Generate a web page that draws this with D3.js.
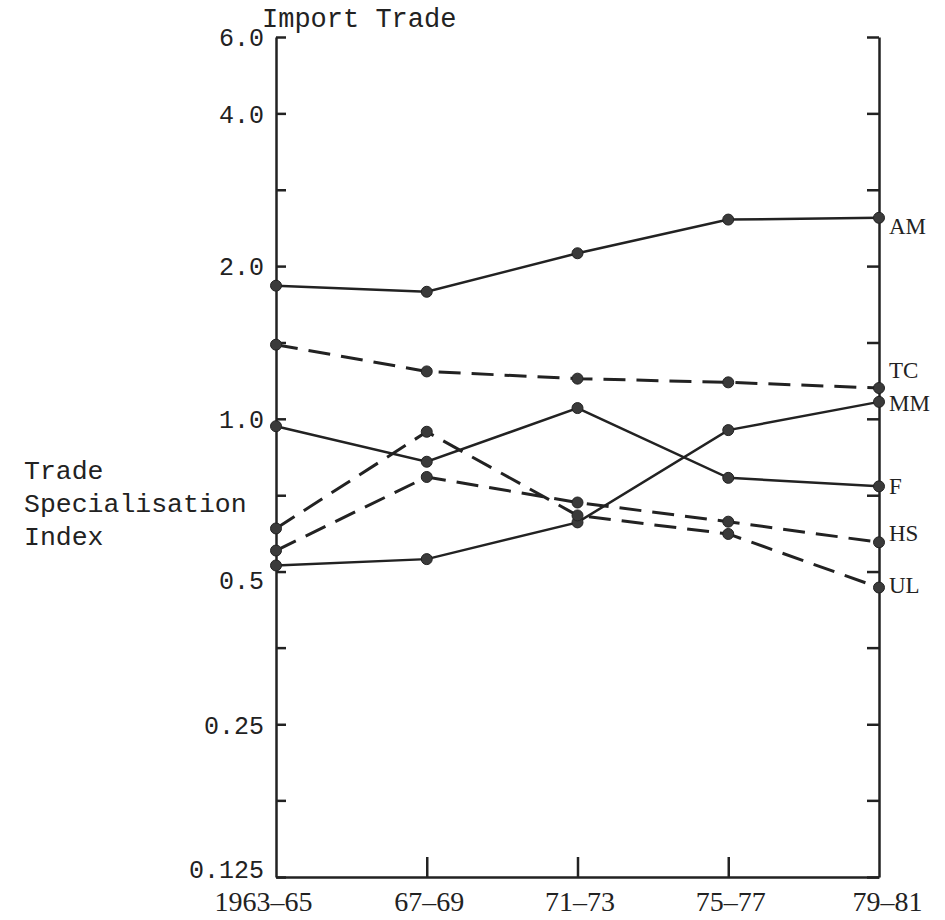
<!DOCTYPE html>
<html>
<head>
<meta charset="utf-8">
<script src="https://cdn.jsdelivr.net/npm/d3@7"></script>
<style>
  html, body { margin: 0; padding: 0; background: #fff; }
  svg { display: block; }
  .mono { font-family: "Liberation Mono", "DejaVu Sans Mono", monospace; fill: #222; }
  .serif { font-family: "Liberation Serif", "DejaVu Serif", serif; fill: #222; }
</style>
</head>
<body>
<svg id="chart"></svg>
<script>
// periods on the x axis
const periods = ["1963–65", "67–69", "71–73", "75–77", "79–81"]

// trade specialisation index per series (log scale)
const amValues = [1.83, 1.78, 2.12, 2.47, 2.49]
const tcValues = [1.40, 1.24, 1.20, 1.18, 1.15]
const mmValues = [0.514, 0.529, 0.625, 0.95, 1.08]
const fValues = [0.967, 0.823, 1.05, 0.765, 0.736]
const hsValues = [0.550, 0.768, 0.684, 0.627, 0.571]
const ulValues = [0.608, 0.943, 0.645, 0.593, 0.465]

const seriesNames = ["AM", "TC", "MM", "F", "HS", "UL"]
const dashedSeries = ["TC", "HS", "UL"]

// y ticks every half doubling, only some labelled
const yTickValues = [0.125, 0.177, 0.25, 0.354, 0.5, 0.707, 1, 1.414, 2, 2.828, 4, 5.657]
const yTickLabels = ["0.125", "", "0.25", "", "0.5", "", "1.0", "", "2.0", "", "4.0", "6.0"]

const series = seriesNames.map((name, i) => ({
  name,
  values: [amValues, tcValues, mmValues, fValues, hsValues, ulValues][i],
  dashed: dashedSeries.includes(name)
}))

const width = 945
const height = 920
const plotLeft = 276
const plotRight = 879
const plotTop = 37
const plotBottom = 877
const ink = "#222"

// nudge end labels off the lines (pixels)
const labelShift = { AM: 8, TC: -18, MM: 1, F: 0, HS: -9, UL: -3 }

const svg = d3.select("#chart").attr("width", width).attr("height", height)

const x = d3.scalePoint().domain(periods).range([plotLeft, plotRight])
const y = d3.scaleLog().base(2).domain([0.125, 5.657]).range([plotBottom, plotTop])

// left axis, ticks pointing inward
const yAxis = d3.axisLeft(y)
  .tickValues(yTickValues)
  .tickFormat((d, i) => yTickLabels[i])
  .tickSizeInner(-10)
  .tickSizeOuter(0)
  .tickPadding(12)

const gy = svg.append("g").attr("transform", `translate(${plotLeft},0)`).call(yAxis)
gy.select(".domain").attr("stroke", ink).attr("stroke-width", 2.5)
gy.selectAll(".tick line").attr("stroke", ink).attr("stroke-width", 2.5)
gy.selectAll(".tick text")
  .attr("class", "mono")
  .attr("font-size", 25)
  // bottom label sits a little above its tick, 0.5 a little below
  .attr("y", (d, i) => i === 0 ? -8 : (i === 4 ? 8 : 0))
  .attr("dy", "0.35em")

// right axis, unlabelled, ticks pointing inward
const yAxisRight = d3.axisLeft(y)
  .tickValues(yTickValues)
  .tickFormat("")
  .tickSizeInner(12)
  .tickSizeOuter(0)

const gyr = svg.append("g").attr("transform", `translate(${plotRight},0)`).call(yAxisRight)
gyr.select(".domain").attr("stroke", ink).attr("stroke-width", 2.5)
gyr.selectAll(".tick line").attr("stroke", ink).attr("stroke-width", 2.5)

// bottom axis, ticks pointing up
const xAxis = d3.axisBottom(x)
  .tickSizeInner(-20)
  .tickSizeOuter(0)
  .tickPadding(14)

const gx = svg.append("g").attr("transform", `translate(0,${plotBottom})`).call(xAxis)
gx.select(".domain").attr("stroke", ink).attr("stroke-width", 2.5)
gx.selectAll(".tick line")
  .attr("stroke", ink)
  .attr("stroke-width", 2.5)
  .attr("opacity", (d, i) => (i === 0 || i === periods.length - 1) ? 0 : 1)
gx.selectAll(".tick text")
  .attr("class", "serif")
  .attr("font-size", 28)
  .attr("text-anchor", (d, i) => i === 0 ? "end" : "middle")
  // first label hangs left so that "63–65" sits under the axis
  .attr("dx", (d, i) => i === 0 ? 36 : (i === periods.length - 1 ? 8 : 2))

// lines
const line = d3.line()
  .x((d, i) => x(periods[i]))
  .y(d => y(d))

svg.append("g")
  .selectAll("path")
  .data(series)
  .join("path")
  .attr("fill", "none")
  .attr("stroke", ink)
  .attr("stroke-width", d => d.dashed ? 3 : 2.5)
  .attr("stroke-dasharray", d => d.dashed ? "22,11" : null)
  .attr("d", d => line(d.values))

// point markers
svg.append("g")
  .selectAll("g")
  .data(series)
  .join("g")
  .selectAll("circle")
  .data(d => d.values)
  .join("circle")
  .attr("cx", (d, i) => x(periods[i]))
  .attr("cy", d => y(d))
  .attr("r", 5.5)
  .attr("fill", "#3a3a3a")
  .attr("stroke", ink)
  .attr("stroke-width", 1)

// end labels
svg.append("g")
  .selectAll("text")
  .data(series)
  .join("text")
  .attr("class", "serif")
  .attr("font-size", 23)
  .attr("x", plotRight + 10)
  .attr("y", d => y(d.values[d.values.length - 1]) + labelShift[d.name])
  .attr("dy", "0.35em")
  .text(d => d.name)

// titles
svg.append("text")
  .attr("class", "mono")
  .attr("font-size", 27)
  .attr("x", 262)
  .attr("y", 27)
  .text("Import Trade")

const yTitle = svg.append("text")
  .attr("class", "mono")
  .attr("font-size", 26.5)
  .attr("x", 24)
  .attr("y", 479)
yTitle.selectAll("tspan")
  .data(["Trade", "Specialisation", "Index"])
  .join("tspan")
  .attr("x", 24)
  .attr("dy", (d, i) => i === 0 ? 0 : 33)
  .text(d => d)
</script>
</body>
</html>
